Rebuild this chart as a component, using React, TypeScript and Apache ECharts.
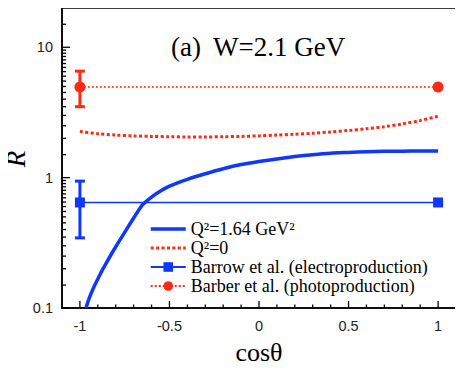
import React, { useEffect, useRef } from "react";
import * as echarts from "echarts";

// ---- data ----
const X_MIN = -1.1;
const X_MAX = 1.1;
const Y_MIN = 0.1;
const Y_MAX = 20;

const curveQ2_164: [number, number][] = [
  [-0.966, 0.1], [-0.955, 0.112], [-0.94, 0.127], [-0.92, 0.147], [-0.9, 0.167],
  [-0.875, 0.195], [-0.85, 0.225], [-0.8, 0.295], [-0.75, 0.38], [-0.7, 0.49],
  [-0.65, 0.62], [-0.6, 0.71], [-0.55, 0.79], [-0.5, 0.86], [-0.4, 0.97],
  [-0.3, 1.07], [-0.2, 1.17], [-0.1, 1.26], [0, 1.33], [0.1, 1.39],
  [0.2, 1.45], [0.3, 1.5], [0.4, 1.54], [0.5, 1.56], [0.6, 1.58],
  [0.7, 1.59], [0.8, 1.595], [0.9, 1.6], [1.0, 1.6],
];

const curveQ2_0: [number, number][] = [
  [-1, 2.26], [-0.9, 2.17], [-0.8, 2.12], [-0.7, 2.09], [-0.6, 2.07],
  [-0.5, 2.06], [-0.4, 2.05], [-0.3, 2.05], [-0.2, 2.06], [-0.1, 2.07],
  [0, 2.09], [0.1, 2.12], [0.2, 2.15], [0.3, 2.19], [0.4, 2.24],
  [0.5, 2.3], [0.6, 2.37], [0.7, 2.46], [0.8, 2.58], [0.9, 2.74],
  [1.0, 2.96],
];

const barrowPoints: [number, number][] = [[-1, 0.645], [1, 0.645]];
const barrowErrors: [number, number, number][] = [[-1, 0.345, 0.94]];

const barberPoints: [number, number][] = [[-1, 4.95], [1, 4.95]];
const barberErrors: [number, number, number][] = [[-1, 3.5, 6.56]];

const yMajorTicks = [0.1, 1, 10];
const yMinorTicks = [
  0.15, 0.2, 0.25, 0.3, 0.35, 0.4, 0.45, 0.5, 0.55, 0.6, 0.65, 0.7, 0.75, 0.8, 0.85, 0.9, 0.95,
  1.5, 2, 2.5, 3, 3.5, 4, 4.5, 5, 5.5, 6, 6.5, 7, 7.5, 8, 8.5, 9, 9.5,
  15,
];
const xMajorTicks = [-1, -0.5, 0, 0.5, 1];
const xMinorTicks = [-0.9, -0.8, -0.7, -0.6, -0.4, -0.3, -0.2, -0.1, 0.1, 0.2, 0.3, 0.4, 0.6, 0.7, 0.8, 0.9];

const seriesNames = [
  "Q²=1.64 GeV²",
  "Q²=0",
  "Barrow et al. (electroproduction)",
  "Barber et al. (photoproduction)",
];

const titleParts = ["(a)", "W=2.1 GeV"];
const yAxisTitle = "R";
const xAxisTitle = "cosθ";

const BLUE = "#0f37ff";
const RED = "#ff2a12";

export default function App() {
  const ref = useRef<HTMLDivElement>(null);
  useEffect(() => {
    if (!ref.current) return;
    const chart = echarts.init(ref.current, undefined, { renderer: "svg" });

    const yTickData = [
      ...yMajorTicks.map((v) => [X_MIN, v, 8]),
      ...yMinorTicks.map((v) => [X_MIN, v, 4]),
    ];
    const xTickData = [
      ...xMajorTicks.map((v) => [v, Y_MIN, 7]),
      ...xMinorTicks.map((v) => [v, Y_MIN, 3.5]),
    ];

    const errorRender = (color: string) => (params: any, api: any) => {
      const x = api.value(0);
      const lo = api.coord([x, api.value(1)]);
      const hi = api.coord([x, api.value(2)]);
      const hw = 5;
      const style = { stroke: color, lineWidth: 3 };
      return {
        type: "group",
        children: [
          { type: "line", shape: { x1: lo[0], y1: lo[1], x2: hi[0], y2: hi[1] }, style },
          { type: "line", shape: { x1: hi[0] - hw, y1: hi[1], x2: hi[0] + hw, y2: hi[1] }, style },
          { type: "line", shape: { x1: lo[0] - hw, y1: lo[1], x2: lo[0] + hw, y2: lo[1] }, style },
        ],
      };
    };

    const titleStyle = {
      fontFamily: "Liberation Serif",
      fontSize: 27,
      fontWeight: "normal",
      color: "#000",
      lineHeight: 28,
    };

    chart.setOption({
      animation: false,
      backgroundColor: "#fff",
      title: [
        { text: titleParts[0], left: 171, top: 33, padding: 0, textStyle: titleStyle },
        { text: titleParts[1], left: 213, top: 33, padding: 0, textStyle: titleStyle },
      ],
      graphic: [
        {
          type: "text",
          x: 16,
          y: 159,
          rotation: Math.PI / 2,
          style: {
            text: yAxisTitle,
            fontFamily: "Liberation Serif",
            fontStyle: "italic",
            fontSize: 27,
            fill: "#000",
            align: "center",
            verticalAlign: "middle",
          },
        },
      ],
      grid: {
        left: 62,
        right: 7,
        top: 8,
        bottom: 63,
        show: true,
        borderColor: "#000",
        borderWidth: 1.5,
        backgroundColor: "transparent",
        outerBoundsMode: "none",
        containLabel: false,
      },
      legend: {
        data: [
          { name: seriesNames[0], itemStyle: { opacity: 0 }, lineStyle: { width: 3.5 } },
          { name: seriesNames[1], itemStyle: { opacity: 0 }, lineStyle: { width: 3 } },
          { name: seriesNames[2] },
          { name: seriesNames[3] },
        ],
        orient: "vertical",
        left: 144,
        top: 215,
        padding: 5,
        itemWidth: 35,
        itemHeight: 12,
        itemGap: 1,
        textStyle: { fontFamily: "Liberation Serif", fontSize: 18, color: "#000" },
        selectedMode: false,
      },
      xAxis: {
        type: "value",
        min: X_MIN,
        max: X_MAX,
        name: xAxisTitle,
        nameLocation: "middle",
        nameGap: 31,
        nameTextStyle: { fontFamily: "Liberation Serif", fontSize: 26, color: "#000" },
        axisLine: { show: true, onZero: false, lineStyle: { color: "#000", width: 1.5 } },
        axisTick: { show: false },
        splitLine: { show: false },
        axisLabel: {
          margin: 10,
          fontFamily: "Liberation Sans",
          fontSize: 14.5,
          color: "#222",
          formatter: (v: number) => {
            const k = Math.round(v * 2);
            if (Math.abs(v * 2 - k) > 1e-6 || Math.abs(v) > 1.0001) return "";
            return String(Math.round(v * 10) / 10);
          },
        },
      },
      yAxis: {
        type: "log",
        logBase: 10,
        min: Y_MIN,
        max: Y_MAX,
        axisLine: { show: true, onZero: false, lineStyle: { color: "#000", width: 1.5 } },
        axisTick: { show: false },
        splitLine: { show: false },
        axisLabel: {
          margin: 9,
          fontFamily: "Liberation Sans",
          fontSize: 14.5,
          color: "#222",
          formatter: (v: number) => {
            const l = Math.log10(v);
            if (Math.abs(l - Math.round(l)) > 1e-6) return "";
            return String(Number(v.toPrecision(6)));
          },
        },
      },
      series: [
        {
          name: seriesNames[0],
          type: "line",
          data: curveQ2_164,
          smooth: 0.2,
          symbol: "none",
          color: BLUE,
          lineStyle: { color: BLUE, width: 3.5 },
          z: 3,
        },
        {
          name: seriesNames[1],
          type: "line",
          data: curveQ2_0,
          smooth: 0.3,
          symbol: "none",
          color: RED,
          lineStyle: { color: RED, width: 3, type: [3, 2.4] },
          z: 3,
        },
        {
          name: seriesNames[2],
          type: "line",
          data: barrowPoints,
          symbol: "rect",
          symbolSize: 10,
          color: BLUE,
          itemStyle: { color: BLUE },
          lineStyle: { color: BLUE, width: 1.5 },
          z: 4,
        },
        {
          name: seriesNames[3],
          type: "line",
          data: barberPoints,
          symbol: "circle",
          symbolSize: 11,
          color: RED,
          itemStyle: { color: RED },
          lineStyle: { color: RED, width: 1.5, type: [2, 2] },
          z: 4,
        },
        {
          name: "barrowErr",
          type: "custom",
          data: barrowErrors,
          encode: { x: 0, y: [1, 2] },
          renderItem: errorRender(BLUE),
          z: 4,
        },
        {
          name: "barberErr",
          type: "custom",
          data: barberErrors,
          encode: { x: 0, y: [1, 2] },
          renderItem: errorRender(RED),
          z: 4,
        },
        {
          name: "yTicks",
          type: "custom",
          data: yTickData,
          encode: { x: 0, y: 1 },
          renderItem: (params: any, api: any) => {
            const p = api.coord([api.value(0), api.value(1)]);
            const len = api.value(2);
            return {
              type: "line",
              shape: { x1: p[0], y1: p[1], x2: p[0] + len, y2: p[1] },
              style: { stroke: "#000", lineWidth: 1.3 },
            };
          },
          z: 5,
          silent: true,
        },
        {
          name: "xTicks",
          type: "custom",
          data: xTickData,
          encode: { x: 0, y: 1 },
          renderItem: (params: any, api: any) => {
            const p = api.coord([api.value(0), api.value(1)]);
            const len = api.value(2);
            return {
              type: "line",
              shape: { x1: p[0], y1: p[1], x2: p[0], y2: p[1] - len },
              style: { stroke: "#000", lineWidth: 1.3 },
            };
          },
          z: 5,
          silent: true,
        },
      ],
    });
    return () => chart.dispose();
  }, []);
  return <div ref={ref} style={{ width: 463, height: 371, margin: -8 }} />;
}
